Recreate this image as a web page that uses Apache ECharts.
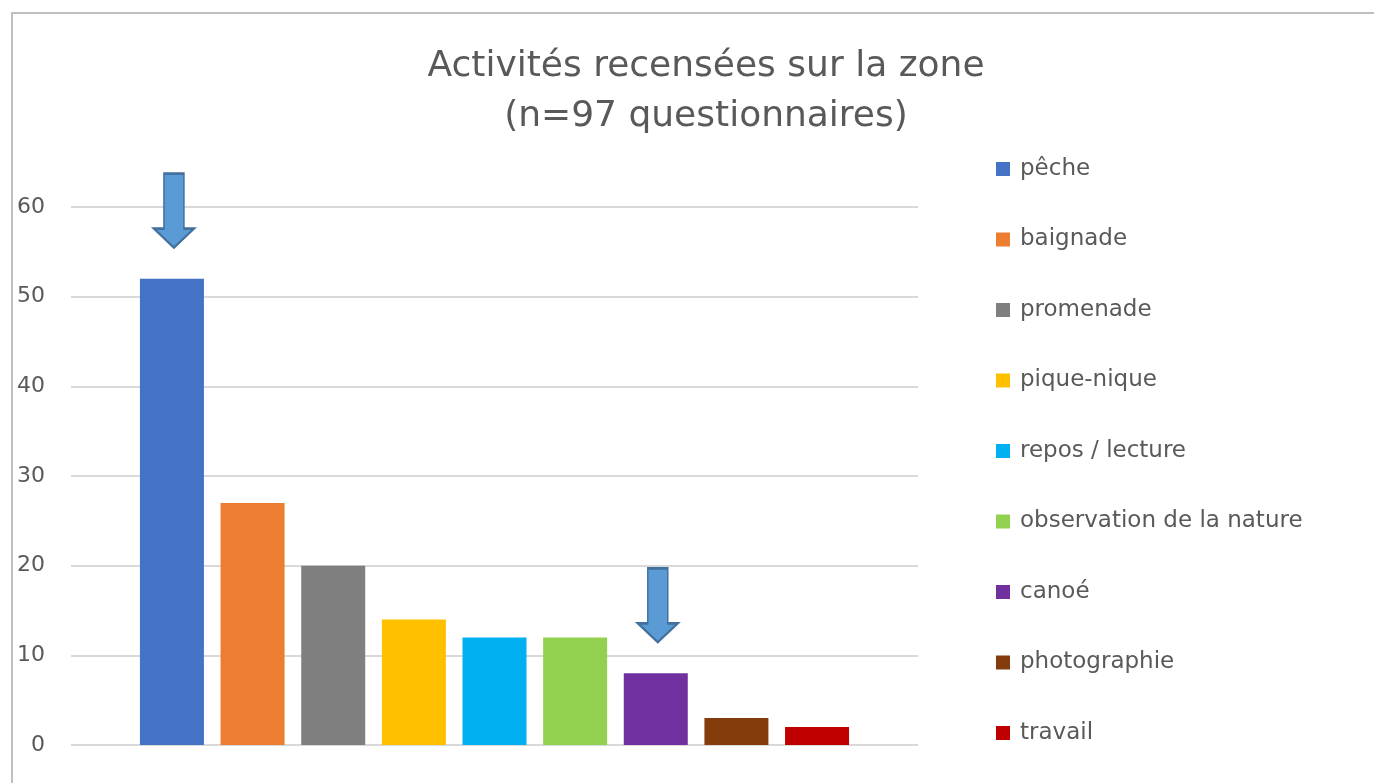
<!DOCTYPE html>
<html>
<head>
<meta charset="utf-8">
<title>Activités recensées sur la zone</title>
<script src="https://cdn.jsdelivr.net/npm/echarts@6/dist/echarts.min.js"></script>
<style>
  html, body { margin: 0; padding: 0; background: #fff; }
  .frame {
    position: absolute; left: 11px; top: 12px; right: -10px; bottom: -10px;
    border-top: 2px solid #bfbfbf; border-left: 2px solid #bfbfbf;
  }
  #chart { position: absolute; left: 0; top: 0; width: 1374px; height: 783px; }
</style>
</head>
<body>
<div class="frame"></div>
<div id="chart"></div>
<script>
// activities (one series each, like the Excel legend)
const activities = ['pêche', 'baignade', 'promenade', 'pique-nique', 'repos / lecture',
  'observation de la nature', 'canoé', 'photographie', 'travail']
const counts = [52, 27, 20, 14, 12, 12, 8, 3, 2]
const barColors = ['#4472C4', '#ED7D31', '#7F7F7F', '#FFC000', '#00B0F0',
  '#92D050', '#7030A0', '#843C0C', '#C00000']
// activities marked with an arrow on the original chart
const highlighted = ['pêche', 'canoé']

const yTicks = { min: 0, max: 60, interval: 10 }

const font = '"DejaVu Sans", "Open Sans", sans-serif'
const arrowPath = 'path://M10,0 L30,0 L30,55 L40,55 L20,74 L0,55 L10,55 Z'

const myChart = echarts.init(document.getElementById('chart'))

const series = activities.map((name, i) => {
  const s = {
    name: name,
    type: 'bar',
    data: [counts[i]],
    barWidth: 64,
    barGap: '26%',
    itemStyle: { color: barColors[i] }
  }
  if (highlighted.includes(name)) {
    s.markPoint = {
      symbol: arrowPath,
      symbolSize: [40, 74],
      symbolOffset: [2, -68],
      label: { show: false },
      itemStyle: { color: '#5B9BD5', borderColor: '#41719C', borderWidth: 2 },
      data: [{ coord: [0, counts[i]] }]
    }
  }
  return s
})

const option = {
  animation: false,
  textStyle: { fontFamily: font },
  title: {
    text: 'Activités recensées sur la zone\n(n=97 questionnaires)',
    left: 701,
    top: 37,
    textAlign: 'center',
    textStyle: {
      fontFamily: font,
      fontSize: 36,
      fontWeight: 'normal',
      color: '#595959',
      lineHeight: 50
    }
  },
  legend: {
    orient: 'vertical',
    left: 996,
    top: 157,
    padding: 0,
    icon: 'rect',
    itemWidth: 14,
    itemHeight: 14,
    itemGap: 46.5,
    textStyle: {
      fontFamily: font, fontSize: 23, color: '#595959', lineHeight: 24,
      padding: [0, 0, 0, 5]
    },
    data: activities
  },
  grid: { left: 71, right: 456, top: 207, bottom: 38, containLabel: false },
  xAxis: {
    type: 'category',
    data: [''],
    axisLine: { show: false },
    axisTick: { show: false },
    axisLabel: { show: false }
  },
  yAxis: {
    type: 'value',
    min: yTicks.min,
    max: yTicks.max,
    interval: yTicks.interval,
    axisLine: { show: false },
    axisTick: { show: false },
    axisLabel: { fontFamily: font, fontSize: 22, color: '#595959', margin: 26 },
    splitLine: { lineStyle: { color: '#d9d9d9', width: 2 } }
  },
  series: series
}

myChart.setOption(option)
</script>
</body>
</html>
